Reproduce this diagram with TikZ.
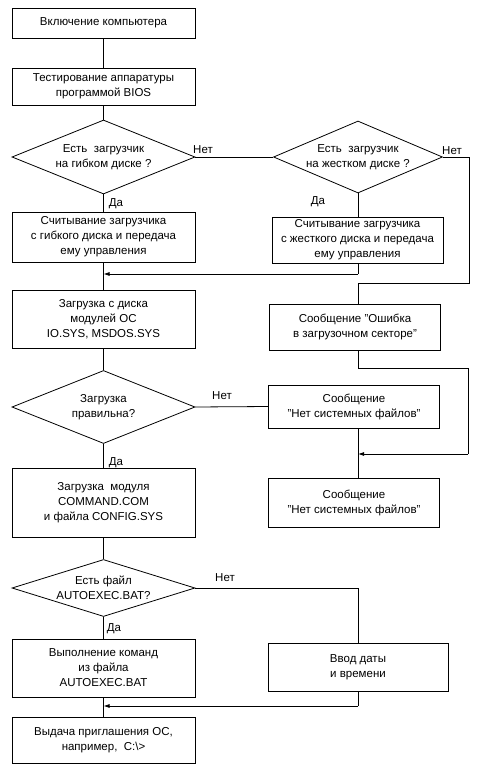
\documentclass[tikz,border=0pt]{standalone}
\usepackage{fontspec}
\setmainfont{Liberation Sans}
\usetikzlibrary{shapes.geometric,arrows.meta}
\newcommand\flfont{\fontsize{11.5}{15}\selectfont}
\begin{document}
\begin{tikzpicture}[x=1pt,y=-1pt,
  every node/.style={font=\flfont},
  box/.style={draw, line width=0.8pt, align=center, inner sep=0pt, minimum width=183pt},
  rbox/.style={draw, line width=0.8pt, align=center, inner sep=0pt, minimum width=171pt},
  dia/.style={draw, line width=0.8pt, diamond, align=center, inner sep=0pt, minimum width=183pt},
  lbl/.style={inner sep=1pt},
  conn/.style={line width=0.8pt},
  arr/.style={line width=0.8pt, -{Latex[length=6pt,width=4pt]}}]
\useasboundingbox (0,0) rectangle (484,771);
% left column
\node[box, minimum height=30pt] (b1) at (103.5,23) {Включение компьютера};
\node[box, minimum height=37pt] (b2) at (103.5,86.5) {Тестирование аппаратуры\\программой BIOS};
\node[dia, shape aspect=2.47, minimum height=74pt] (d1) at (103.5,157) {Есть \ загрузчик\\на гибком диске ?};
\node[box, minimum height=50pt] (b3) at (103.5,237) {Считывание загрузчика\\с гибкого диска и передача\\ему управления};
\node[box, minimum height=58pt] (b4) at (103.5,319) {Загрузка с диска\\модулей ОС\\IO.SYS, MSDOS.SYS};
\node[dia, shape aspect=2.5, minimum height=73pt] (d2) at (103.5,407) {Загрузка\\правильна?};
\node[box, minimum height=69pt] (b5) at (103.5,502.5) {Загрузка \ модуля\\COMMAND.COM\\и файла CONFIG.SYS};
\node[dia, shape aspect=3.2, minimum height=57pt] (d3) at (103.5,588) {Есть файл\\AUTOEXEC.BAT?};
\node[box, minimum height=58pt] (b6) at (103.5,668) {Выполнение команд\\из файла\\AUTOEXEC.BAT};
\node[box, minimum height=46pt] (b7) at (103.5,740) {Выдача приглашения ОС,\\например, \ C:\textbackslash>};
% right column
\node[dia, shape aspect=2.35, minimum width=169pt, minimum height=72pt] (rd) at (358,157) {Есть \ загрузчик\\на жестком диске ?};
\node[rbox, minimum height=46pt] (r1) at (357.5,240) {Считывание загрузчика\\с жесткого диска и передача\\ему управления};
\node[rbox, minimum height=46pt] (r2) at (355,327) {Сообщение "Ошибка\\в загрузочном секторе"};
\node[rbox, minimum height=43pt] (r3) at (354,406.5) {Сообщение\\"Нет системных файлов"};
\node[rbox, minimum height=49pt] (r4) at (354,502.5) {Сообщение\\"Нет системных файлов"};
\node[box, minimum width=180pt, minimum height=48pt] (r5) at (358,667) {Ввод даты\\и времени};
% coordinates
\coordinate (c1) at (469,157);
\coordinate (c2) at (469,283);
\coordinate (c3) at (358,283);
\coordinate (c4) at (358,274);
\coordinate (c5) at (103.5,274);
\coordinate (c6) at (358,368);
\coordinate (c7) at (468,368);
\coordinate (c8) at (468,454);
\coordinate (c9) at (358,454);
\coordinate (c10) at (358,588);
\coordinate (c11) at (358,706);
\coordinate (c12) at (103.5,706);
% connectors
\draw[conn] (b1) -- (b2);
\draw[conn] (b2) -- (d1.north);
\draw[conn] (d1.south) -- (b3);
\draw[conn] (d1.east) -- (rd.west);
\draw[conn] (rd.south) -- (r1.north -| rd.south);
\draw[conn] (rd.east) -- (c1) -- (c2) -- (c3) -- (r2.north -| c3);
\draw[conn] (r1.south -| c4) -- (c4);
\draw[arr] (c4) -- (c5);
\draw[conn] (b3) -- (b4);
\draw[conn] (b4) -- (d2.north);
\draw[conn] (d2.east) -- (r3.west);
\draw[conn] (r2.south -| c6) -- (c6) -- (c7) -- (c8);
\draw[arr] (c8) -- (c9);
\draw[conn] (r3.south -| c9) -- (r4.north -| c9);
\draw[conn] (d2.south) -- (b5);
\draw[conn] (b5) -- (d3.north);
\draw[conn] (d3.east) -- (c10) -- (r5.north -| c10);
\draw[conn] (d3.south) -- (b6);
\draw[conn] (r5.south -| c11) -- (c11);
\draw[arr] (c11) -- (c12);
\draw[conn] (b6) -- (b7);
% labels
\node[lbl] (l1) at (203,150) {Нет};
\node[lbl] (l2) at (116,204) {Да};
\node[lbl] (l3) at (452,151) {Нет};
\node[lbl] (l4) at (318,202) {Да};
\node[lbl] (l5) at (222,396) {Нет};
\node[lbl] (l6) at (116,463) {Да};
\node[lbl] (l7) at (225,578) {Нет};
\node[lbl] (l8) at (114,629) {Да};
\end{tikzpicture}
\end{document}
